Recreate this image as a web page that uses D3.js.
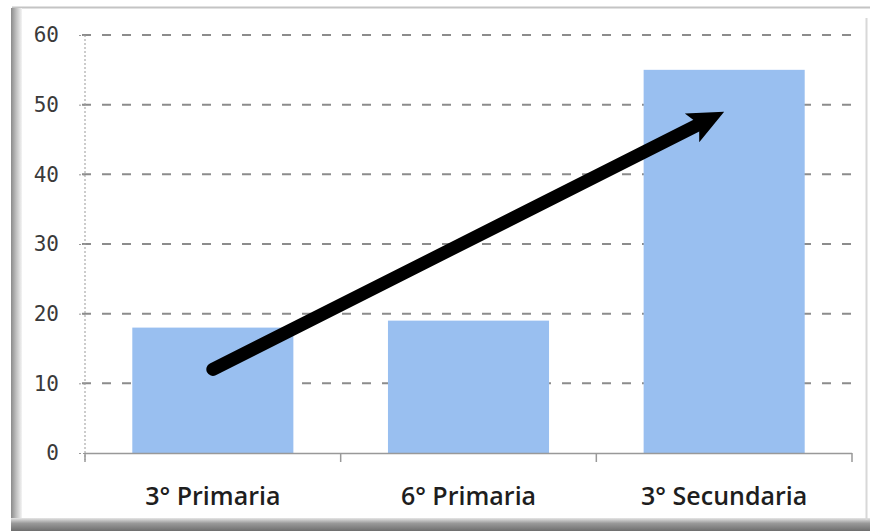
<!DOCTYPE html>
<html><head><meta charset="utf-8">
<script src="https://cdn.jsdelivr.net/npm/d3@7"></script>
<style>html,body{margin:0;padding:0;background:#fff;}svg{display:block;}</style>
</head><body>
<svg id="c" width="870" height="531"></svg>
<script>
const categories = ["3° Primaria", "6° Primaria", "3° Secundaria"];
const values = [18, 19, 55];
const yTicks = [0, 10, 20, 30, 40, 50, 60];
const arrowFrom = {cat: "3° Primaria", value: 12};
const arrowTo = {cat: "3° Secundaria", value: 49};

const svg = d3.select("#c");
const W = 870, H = 531;

// frame
const defs = svg.append("defs");
const gl = defs.append("linearGradient").attr("id","lg").attr("x1","0").attr("x2","1");
gl.append("stop").attr("offset","0").attr("stop-color","#8a8a8a");
gl.append("stop").attr("offset","0.45").attr("stop-color","#bdbdbd");
gl.append("stop").attr("offset","1").attr("stop-color","#f4f4f4");
const gb = defs.append("linearGradient").attr("id","bg").attr("x1","0").attr("x2","0").attr("y1","0").attr("y2","1");
gb.append("stop").attr("offset","0").attr("stop-color","#e6e6e6");
gb.append("stop").attr("offset","0.4").attr("stop-color","#9a9a9a");
gb.append("stop").attr("offset","1").attr("stop-color","#6e6e6e");

svg.append("rect").attr("x",0).attr("y",0).attr("width",W).attr("height",H).attr("fill","#fff");
svg.append("line").attr("x1",12).attr("x2",870).attr("y1",7.5).attr("y2",7.5).attr("stroke","#c4c4c4").attr("stroke-width",2);
svg.append("rect").attr("x",11).attr("y",8).attr("width",11).attr("height",515).attr("fill","url(#lg)");
svg.append("rect").attr("x",11).attr("y",518).attr("width",859).attr("height",13).attr("fill","url(#bg)");
svg.append("line").attr("x1",866.5).attr("x2",866.5).attr("y1",18).attr("y2",520).attr("stroke","#d8d8d8").attr("stroke-width",2);

const x = d3.scaleBand().domain(categories).range([85, 852]).paddingInner(0.37).paddingOuter(0.185);
const y = d3.scaleLinear().domain([0, 60]).range([453, 35]);

// gridlines
svg.append("g").selectAll("line").data(yTicks.filter(d => d > 0)).join("line")
  .attr("x1", 78).attr("x2", 852)
  .attr("y1", d => y(d)).attr("y2", d => y(d))
  .attr("stroke", "#8c8c8c").attr("stroke-width", 2).attr("stroke-dasharray", "9,11")
  .attr("stroke-dashoffset", -4);

// bars
svg.append("g").selectAll("rect").data(values).join("rect")
  .attr("x", (d, i) => x(categories[i]))
  .attr("width", x.bandwidth())
  .attr("y", d => y(d))
  .attr("height", d => y(0) - y(d))
  .attr("fill", "#99bff0");

// y axis
const ya = d3.axisLeft(y).tickValues(yTicks).tickSize(8).tickPadding(18);
const yg = svg.append("g").attr("transform", "translate(85,0)").call(ya);
yg.select(".domain").attr("stroke", "#999").attr("stroke-dasharray", "2,2").attr("d", `M0,${y(60)}V460`);
yg.selectAll(".tick line").attr("stroke", "#999").attr("stroke-dasharray", "2,2");
yg.selectAll(".tick text").attr("font-family", "DejaVu Sans Mono").attr("font-size", 21).attr("fill", "#3a3a3a");

// x axis
const xg = svg.append("g");
xg.append("line").attr("x1", 85).attr("x2", 852).attr("y1", y(0)+0.5).attr("y2", y(0)+0.5).attr("stroke", "#999").attr("stroke-width", 1.5);
const bounds = [85, ...categories.map(c => x(c) + x.bandwidth() + x.step()*x.paddingInner()/2)];
xg.selectAll("line.t").data(bounds).join("line").attr("class","t")
  .attr("x1", d => d).attr("x2", d => d).attr("y1", y(0)).attr("y2", y(0)+9)
  .attr("stroke", "#999").attr("stroke-width", 1.5);
xg.selectAll("text").data(categories).join("text")
  .attr("x", d => x(d) + x.bandwidth()/2).attr("y", 505)
  .attr("text-anchor", "middle")
  .attr("font-family", "Open Sans").attr("font-weight", 600).attr("font-size", 25)
  .attr("fill", "#1e1e1e").text(d => d);

// arrow
const x0 = x(arrowFrom.cat) + x.bandwidth()/2, y0 = y(arrowFrom.value);
const x1 = x(arrowTo.cat) + x.bandwidth()/2, y1 = y(arrowTo.value);
const dx = x1 - x0, dy = y1 - y0, L = Math.hypot(dx, dy);
const ux = dx / L, uy = dy / L, nx = -uy, ny = ux;
const headL = 36, headW = 16;
const bx = x1 - ux*headL, by = y1 - uy*headL;
svg.append("line").attr("x1", x0).attr("y1", y0).attr("x2", bx + ux*6).attr("y2", by + uy*6)
  .attr("stroke", "#000").attr("stroke-width", 13).attr("stroke-linecap", "round");
svg.append("path")
  .attr("d", `M${x1},${y1}L${bx + nx*headW},${by + ny*headW}L${bx + ux*8},${by + uy*8}L${bx - nx*headW},${by - ny*headW}Z`)
  .attr("fill", "#000");
</script>
</body></html>
